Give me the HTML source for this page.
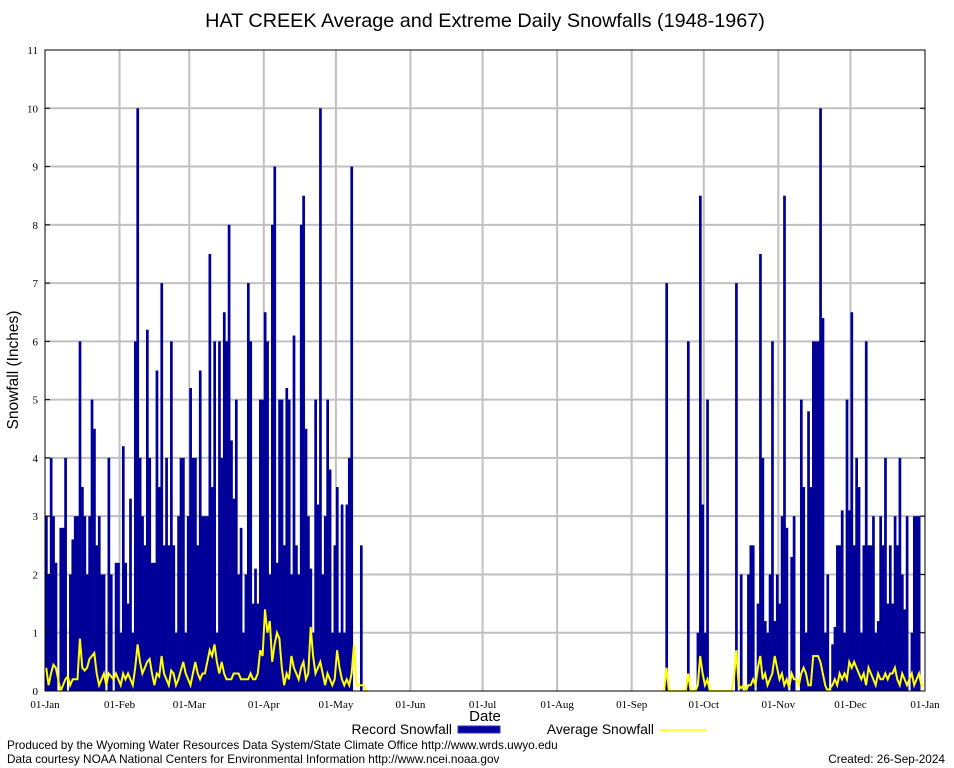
<!DOCTYPE html>
<html><head><meta charset="utf-8"><style>
body{margin:0;background:#fff;}
svg{display:block;font-family:"Liberation Sans",sans-serif;}
</style></head><body>
<svg id="chart" width="954" height="768">
<text x="485" y="27" font-size="19.8" text-anchor="middle">HAT CREEK Average and Extreme Daily Snowfalls (1948-1967)</text>
<text transform="translate(18,370) rotate(-90)" font-size="15.5" text-anchor="middle">Snowfall (Inches)</text>
<text x="485" y="721" font-size="15" text-anchor="middle">Date</text>
<g id="grid"></g><g id="bars"></g><g id="avg"></g><g id="axes"></g>
<g>
<text x="452" y="734" font-size="13.8" text-anchor="end">Record Snowfall</text>
<rect x="458" y="726" width="42" height="7" fill="#000099" stroke="#3333cc"/>
<text x="654" y="734" font-size="13.8" text-anchor="end">Average Snowfall</text>
<line x1="660" y1="730" x2="706" y2="730" stroke="#ffff00" stroke-width="1.5"/>
</g>
<text x="7" y="749" font-size="11.8">Produced by the Wyoming Water Resources Data System/State Climate Office http://www.wrds.uwyo.edu</text>
<text x="7" y="763" font-size="11.8">Data courtesy NOAA National Centers for Environmental Information http://www.ncei.noaa.gov</text>
<text x="945" y="763" font-size="11.8" text-anchor="end">Created:  26-Sep-2024</text>
</svg>
<script>
const monthLabels=["01-Jan","01-Feb","01-Mar","01-Apr","01-May","01-Jun","01-Jul","01-Aug","01-Sep","01-Oct","01-Nov","01-Dec","01-Jan"];
const monthStarts=[0,31,60,91,121,152,182,213,244,274,305,335,366];
const yTicks=[0,1,2,3,4,5,6,7,8,9,10,11];
const springStart=0;
const recordSpring=[3,2,4,3,2.2,0,2.8,2.8,4,0,2,2.6,3,3,6,3.5,3,2,3,5,4.5,2.5,3,2,2,0,4,2,0,2.2,2.2,1,4.2,2.2,1.5,3.3,1,6,10,4,3,2.5,6.2,4,2.2,2.2,5.5,3.5,7,2.5,4,2.5,6,2.5,1,3,4,4,1,3,5.2,4,4,2.5,5.5,3,3,3,7.5,3.5,6,1,6,4,6.5,6,8,4.3,3.3,5,2,2.8,1,2,7,6,1.5,2.1,1.5,5,5,6.5,6,2,8,9,2.2,5,5,2.5,5.2,5,2,6.1,2.5,2,8,8.5,4.5,3,2.1,1,5,3.2,10,2,3,5,3.8,1,2.5,3.5,1,3.2,1,3.2,4,9,0,0,0,2.5];
const avgSpring=[0.4,0.1,0.3,0.45,0.4,0.2,0,0.1,0.2,0.25,0.1,0.2,0.2,0.2,0.9,0.4,0.35,0.4,0.55,0.6,0.65,0.3,0.1,0.2,0.3,0.1,0.3,0.25,0.2,0.3,0.2,0.1,0.3,0.2,0.3,0.2,0.1,0.4,0.8,0.5,0.3,0.4,0.5,0.55,0.3,0.1,0.3,0.25,0.6,0.3,0.2,0.1,0.35,0.3,0.1,0.2,0.35,0.5,0.3,0.2,0.1,0.3,0.5,0.3,0.2,0.3,0.3,0.5,0.7,0.6,0.8,0.5,0.3,0.5,0.3,0.2,0.2,0.2,0.3,0.3,0.3,0.2,0.2,0.2,0.2,0.3,0.2,0.2,0.3,0.7,0.6,1.4,1.0,1.2,0.5,0.8,1.0,0.9,0.4,0.1,0.3,0.2,0.6,0.4,0.3,0.2,0.4,0.5,0.2,0.3,1.1,0.6,0.3,0.4,0.5,0.3,0.1,0.3,0.2,0.1,0.2,0.7,0.4,0.2,0.1,0.2,0.1,0.3,0.8,0.1,0.1,0.1,0.1];
const fallStart=258;
const recordFall=[7,0,0,0,0,0,0,0,0,6,0,0,0,1,8.5,3.2,1,5,0,0,0,0,0,0,0,0,0,0,0,7,0,2,0,0,2,2.5,2.5,0,1.5,7.5,4,1.2,1,2,6,1.2,2,1.5,3,8.5,2.8,0,2.3,3,0,0,5,3.5,1,4.8,3.5,6,6,6,10,6.4,1,2,0,0.8,1.1,2.5,2.5,3.1,1,5,3.1,6.5,2.5,4,3.5,1,2.5,6,2.5,2.5,3,1,1.2,3,2.5,4,1.5,2.5,1.5,3,2.5,4,2,1.4,3,0,1,3,3,3,0,0];
const avgFall=[0.4,0,0,0,0,0,0,0,0,0.3,0,0,0,0.1,0.6,0.3,0.1,0.2,0,0,0,0,0,0,0,0,0,0,0.2,0.7,0.1,0.05,0.1,0,0.1,0.1,0.2,0.1,0.4,0.6,0.2,0.3,0.1,0.2,0.3,0.6,0.4,0.2,0.3,0.1,0.2,0.05,0.3,0.2,0.2,0.1,0.3,0.4,0.3,0.1,0.1,0.6,0.6,0.6,0.5,0.3,0.1,0,0.05,0.1,0.2,0.1,0.3,0.2,0.3,0.2,0.5,0.4,0.5,0.4,0.3,0.2,0.3,0.1,0.4,0.3,0.2,0.1,0.3,0.2,0.2,0.3,0.2,0.3,0.3,0.4,0.2,0.1,0.3,0.2,0.1,0.2,0.3,0.1,0.2,0.3,0.1,0.1];

const NS="http://www.w3.org/2000/svg";
const X0=45,X1=925,Y0=691,Y1=50,YMAX=11,NDAYS=366;
const xs=d=>X0+(X1-X0)*d/NDAYS;
const ys=v=>Y0-(Y0-Y1)*v/YMAX;
function mk(tag,attrs,parent){const e=document.createElementNS(NS,tag);for(const k in attrs)e.setAttribute(k,attrs[k]);parent.appendChild(e);return e;}
const grid=document.getElementById('grid'),bars=document.getElementById('bars'),avgG=document.getElementById('avg'),axes=document.getElementById('axes');
yTicks.forEach(t=>{
  if(t>0&&t<YMAX){const l=mk('line',{x1:X0,x2:X1,y1:ys(t),y2:ys(t),stroke:'#c0c0c0','stroke-width':2},grid);
  
  }
  const tx=mk('text',{x:X0-7,y:ys(t)+4,'font-size':11,'text-anchor':'end','font-family':'Liberation Serif, serif'},axes);
  tx.textContent=t;
  
  
  mk('line',{x1:X0,x2:X0+5,y1:ys(t),y2:ys(t),stroke:'#000'},axes);
  mk('line',{x1:X1-5,x2:X1,y1:ys(t),y2:ys(t),stroke:'#000'},axes);
});
monthStarts.forEach((d,i)=>{
  if(i>0&&i<monthStarts.length-1){const l=mk('line',{x1:xs(d),x2:xs(d),y1:Y1,y2:Y0,stroke:'#c0c0c0','stroke-width':2},grid);
  
  }
  const tx=mk('text',{x:xs(d),y:708,'font-size':11,'text-anchor':'middle','font-family':'Liberation Serif, serif'},axes);
  tx.textContent=monthLabels[i];
  
  
});
const record=new Array(NDAYS).fill(0),avg=new Array(NDAYS).fill(0);
recordSpring.forEach((v,i)=>record[springStart+i]=v);
recordFall.forEach((v,i)=>record[fallStart+i]=v);
avgSpring.forEach((v,i)=>avg[springStart+i]=v);
avgFall.forEach((v,i)=>avg[fallStart+i]=v);
const bw=(X1-X0)/NDAYS;
record.forEach((v,d)=>{
  if(v<=0)return;
  const r=mk('rect',{x:xs(d),y:ys(v),width:bw+0.3,height:Y0-ys(v),fill:'#000099'},bars);
  
  
});
function seg(a,b){
  let p='';for(let d=a;d<b;d++)p+=(d===a?'M':'L')+(xs(d)+bw/2).toFixed(1)+','+ys(avg[d]).toFixed(1);
  const pl=mk('path',{d:p,fill:'none',stroke:'#ffff00','stroke-width':2},avgG);
  
  
}
seg(springStart,springStart+avgSpring.length+2);
seg(fallStart-1,NDAYS);
const fr=mk('rect',{x:X0,y:Y1,width:X1-X0,height:Y0-Y1,fill:'none',stroke:'#000'},axes);


</script>
</body></html>
